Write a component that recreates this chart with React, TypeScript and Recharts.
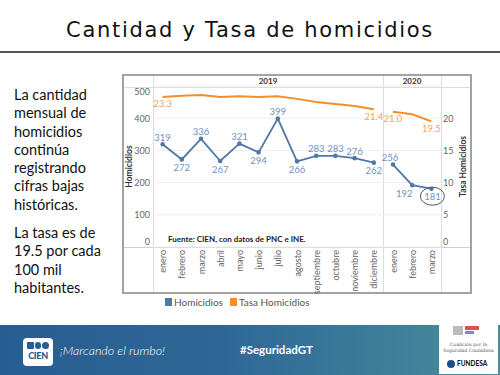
import React from "react";
import { CartesianGrid, Label, LabelList, Line, LineChart, ReferenceDot, XAxis, YAxis } from "recharts";

const months2019 = ["enero", "febrero", "marzo", "abril", "mayo", "junio", "julio", "agosto", "septiembre", "octubre", "noviembre", "diciembre"];
const months2020 = ["enero", "febrero", "marzo"];
const homicidios2019 = [319, 272, 336, 267, 321, 294, 399, 266, 283, 283, 276, 262];
const homicidios2020 = [256, 192, 181];
const tasa2019 = [23.3, 23.5, 23.6, 23.3, 23.4, 23.3, 23.4, 23.0, 22.5, 22.2, 21.9, 21.4];
const tasa2020 = [21.0, 20.6, 19.5];
const leftTicks = [0, 100, 200, 300, 400, 500];
const rightTicks = [0, 5, 10, 15, 20];

const BLUE = "#4e79a7";
const BLUE_TXT = "#6d93c4";
const ORANGE = "#f28e2b";
const ORANGE_TXT = "#f4a45c";
const FONT = "Lato, 'Open Sans', sans-serif";

// label offsets (dx, dy) per month for Homicidios
const homLabelOffsets: [number, number][] = [
  [0, -7], [0, 8], [0, -7], [0, 8], [0, -7], [0, 8], [0, -7], [0, 8], [0, -7], [0, -7], [0, -7], [0, 8],
  [-3, -7], [-8, 8], [1, 8],
];

const months = [...months2019, ...months2020];
const n2019 = months2019.length;
const data = months.map((m, i) => ({
  x: i + 0.5,
  month: m,
  hom2019: i < n2019 ? homicidios2019[i] : null,
  hom2020: i >= n2019 ? homicidios2020[i - n2019] : null,
  tasa2019: i < n2019 ? tasa2019[i] : null,
  tasa2020: i >= n2019 ? tasa2020[i - n2019] : null,
}));

const MonthTick = (p: any) => {
  const { x, y, payload } = p;
  const label = months[Math.floor(payload.value)];
  return (
    <text x={x} y={y} transform={`rotate(-90 ${x} ${y})`} textAnchor="end" dominantBaseline="central" fontSize={9} fill="#666" fontFamily={FONT}>
      {label}
    </text>
  );
};

const makeYTick = (max: number, anchor: "start" | "end") => (p: any) => {
  const { x, y, payload } = p;
  let dy = 0;
  if (payload.value === 0) dy = -5.3;
  if (payload.value === max) dy = 5.7;
  return (
    <text x={x} y={y + dy} textAnchor={anchor} dominantBaseline="central" fontSize={9} fill="#666" fontFamily={FONT}>
      {payload.value}
    </text>
  );
};

const homLabel = (p: any) => {
  const { x, y, value, index } = p;
  if (value == null || y == null) return null;
  const [dx, dy] = homLabelOffsets[index] || [0, -7];
  return (
    <text x={x + dx} y={y + dy} textAnchor="middle" dominantBaseline="central" fontSize={9.5} fill={BLUE_TXT} fontFamily={FONT}>
      {value}
    </text>
  );
};

const tasaLabel = (p: any) => {
  const { x, y, value, index } = p;
  if (value == null || y == null) return null;
  const show = index === 0 || index === n2019 - 1 || index === n2019 || index === months.length - 1;
  if (!show) return null;
  return (
    <text x={x} y={y + 7} textAnchor="middle" dominantBaseline="central" fontSize={9.5} fill={ORANGE_TXT} fontFamily={FONT}>
      {value.toFixed(1)}
    </text>
  );
};

const axisTitle = (dx: number) => (p: any) => {
  const { x, y, height } = p.viewBox;
  const cx = x + dx;
  const cy = y + height / 2;
  return (
    <text x={cx} y={cy} transform={`rotate(-90 ${cx} ${cy})`} textAnchor="middle" dominantBaseline="central" fontSize={8.5} fontWeight={700} fill="#333" fontFamily={FONT}>
      {p.value}
    </text>
  );
};

const abs = (s: React.CSSProperties): React.CSSProperties => ({ position: "absolute", ...s });

export default function App() {
  return (
    <div style={abs({ left: 0, top: 0, width: 500, height: 375, overflow: "hidden", background: "#fff", fontFamily: FONT })}>
      {/* title */}
      <div style={abs({ left: 0, top: 18, width: 500, textAlign: "center", fontFamily: "'DejaVu Sans', sans-serif", fontSize: 21, letterSpacing: 1.7, color: "#111", lineHeight: "24px" })}>
        Cantidad y Tasa de homicidios
      </div>
      <div style={abs({ left: 0, top: 51, width: 500, height: 1.5, background: "#555" })} />

      {/* side text */}
      <div style={abs({ left: 14, top: 86, width: 105, fontSize: 14.5, lineHeight: "18.3px", color: "#111" })}>
        La cantidad<br />mensual de<br />homicidios<br />continúa<br />registrando<br />cifras bajas<br />históricas.
      </div>
      <div style={abs({ left: 14, top: 224, width: 105, fontSize: 14.5, lineHeight: "18.3px", color: "#111" })}>
        La tasa es de<br />19.5 por cada<br />100 mil<br />habitantes.
      </div>

      {/* chart frame */}
      <div style={abs({ left: 122, top: 74, width: 346, height: 216, border: "2px solid #a2a2a2" })} />
      <div style={abs({ left: 124, top: 87, width: 346, height: 1, background: "#dcdcdc" })} />
      <div style={abs({ left: 124, top: 247, width: 346, height: 1, background: "#cfcfcf" })} />
      <div style={abs({ left: 153, top: 76, width: 1, height: 216, background: "#dcdcdc" })} />
      <div style={abs({ left: 383, top: 76, width: 1, height: 216, background: "#dcdcdc" })} />
      <div style={abs({ left: 441, top: 76, width: 1, height: 216, background: "#dcdcdc" })} />
      <div style={abs({ left: 153, top: 76, width: 230, textAlign: "center", fontSize: 8, fontWeight: 700, color: "#333", lineHeight: "11px" })}>2019</div>
      <div style={abs({ left: 383, top: 76, width: 58, textAlign: "center", fontSize: 8, fontWeight: 700, color: "#333", lineHeight: "11px" })}>2020</div>

      <div style={abs({ left: 0, top: 0 })}>
        <LineChart width={500} height={375} data={data} margin={{ top: 86, left: 123, right: 29, bottom: 82 }}>
          <CartesianGrid yAxisId="left" vertical={false} stroke="#efefef" />
          <XAxis
            type="number"
            dataKey="x"
            domain={[0, 15]}
            ticks={data.map((d) => d.x)}
            interval={0}
            tick={<MonthTick />}
            tickLine={false}
            axisLine={false}
            tickSize={0}
            tickMargin={3}
            height={46}
          />
          <YAxis yAxisId="left" domain={[0, 500]} ticks={leftTicks} width={30} tick={makeYTick(500, "end")} tickLine={false} axisLine={false} tickSize={0} tickMargin={3}>
            <Label value="Homicidios" content={axisTitle(6)} />
          </YAxis>
          <YAxis yAxisId="right" orientation="right" domain={[0, 25]} ticks={rightTicks} width={30} tick={makeYTick(25, "start")} tickLine={false} axisLine={false} tickSize={0} tickMargin={2}>
            <Label value="Tasa Homicidios" content={axisTitle(22.3)} />
          </YAxis>
          <Line yAxisId="right" dataKey="tasa2019" name="Tasa Homicidios" stroke={ORANGE} strokeWidth={2} dot={false} isAnimationActive={false}>
            <LabelList dataKey="tasa2019" content={tasaLabel} />
          </Line>
          <Line yAxisId="right" dataKey="tasa2020" name="Tasa Homicidios" stroke={ORANGE} strokeWidth={2} dot={false} isAnimationActive={false}>
            <LabelList dataKey="tasa2020" content={tasaLabel} />
          </Line>
          <Line yAxisId="left" dataKey="hom2019" name="Homicidios" stroke={BLUE} strokeWidth={1.8} dot={{ r: 1.4, fill: BLUE, stroke: BLUE }} isAnimationActive={false}>
            <LabelList dataKey="hom2019" content={homLabel} />
          </Line>
          <Line yAxisId="left" dataKey="hom2020" name="Homicidios" stroke={BLUE} strokeWidth={1.8} dot={{ r: 1.4, fill: BLUE, stroke: BLUE }} isAnimationActive={false}>
            <LabelList dataKey="hom2020" content={homLabel} />
          </Line>
          <ReferenceDot
            yAxisId="left"
            x={data[months.length - 1].x}
            y={homicidios2020[homicidios2020.length - 1]}
            shape={(p: any) => <ellipse cx={p.cx + 1} cy={p.cy + 7.5} rx={12} ry={9} fill="none" stroke="#555" strokeWidth={1} />}
          />
        </LineChart>
      </div>

      <div style={abs({ left: 168, top: 234, fontSize: 8, fontWeight: 700, color: "#222", whiteSpace: "nowrap" })}>
        Fuente: CIEN, con datos de PNC e INE.
      </div>

      {/* legend */}
      <div style={abs({ left: 165, top: 298, width: 7, height: 8, background: BLUE })} />
      <div style={abs({ left: 174, top: 295, fontSize: 10, color: "#555", lineHeight: "14px" })}>Homicidios</div>
      <div style={abs({ left: 230, top: 298, width: 7, height: 8, background: ORANGE })} />
      <div style={abs({ left: 239, top: 295, fontSize: 10, color: "#555", lineHeight: "14px" })}>Tasa Homicidios</div>

      {/* footer */}
      <div style={abs({ left: 0, top: 325, width: 500, height: 50, background: "linear-gradient(90deg, #285d91 0%, #2e6796 45%, #4a8d9c 100%)" })} />
      <div style={abs({ left: 23, top: 338, width: 30, height: 28, background: "#fff", borderRadius: 4 })}>
        <div style={abs({ left: 4, top: 4, width: 22, height: 7, display: "flex", gap: 1 })}>
          <div style={{ width: 7, height: 7, background: "#285d91", borderRadius: 1 }} />
          <div style={{ width: 7, height: 7, background: "#285d91", borderRadius: 4 }} />
          <div style={{ width: 7, height: 7, background: "#285d91", borderRadius: 4 }} />
        </div>
        <div style={abs({ left: 0, top: 12, width: 30, textAlign: "center", fontSize: 9, fontWeight: 900, color: "#285d91", lineHeight: "11px", letterSpacing: -0.3 })}>CIEN</div>
      </div>
      <div style={abs({ left: 60, top: 343, fontSize: 12.5, fontStyle: "italic", fontWeight: 300, color: "#fff", whiteSpace: "nowrap" })}>
        ¡Marcando el rumbo!
      </div>
      <div style={abs({ left: 240, top: 343, fontSize: 11.5, fontWeight: 700, color: "#fff", whiteSpace: "nowrap" })}>#SeguridadGT</div>
      <div style={abs({ left: 439, top: 322, width: 59, height: 52, background: "#fff" })}>
        <div style={abs({ left: 14, top: 4, width: 10, height: 9, background: "#bbb" })} />
        <div style={abs({ left: 26, top: 4, width: 14, height: 4, background: "#d9534f" })} />
        <div style={abs({ left: 26, top: 9, width: 9, height: 3, background: "#6d93c4" })} />
        <div style={abs({ left: 0, top: 20, width: 59, textAlign: "center", fontFamily: "'DejaVu Serif', serif", fontSize: 4.6, lineHeight: "6px", color: "#555" })}>
          Coalición por la<br />Seguridad Ciudadana
        </div>
        <div style={abs({ left: 8, top: 38, width: 8, height: 8, borderRadius: 4, background: "#1f4f8a" })} />
        <div style={abs({ left: 18, top: 37, fontSize: 6.5, fontWeight: 900, color: "#1a1a1a", lineHeight: "10px" })}>FUNDESA</div>
      </div>
    </div>
  );
}
